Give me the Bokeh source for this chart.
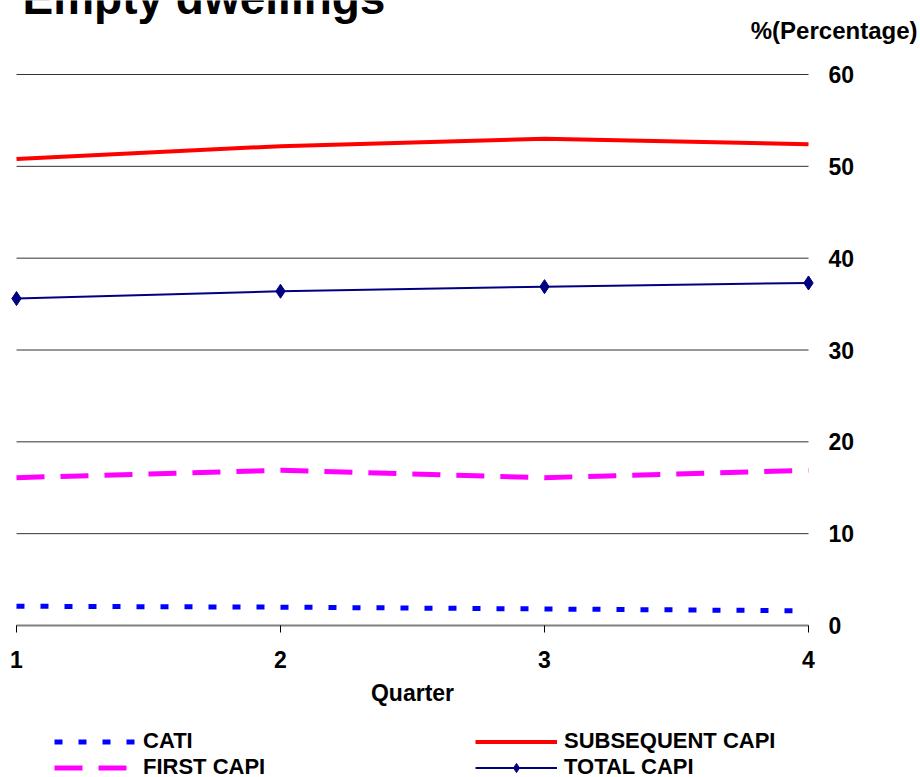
from bokeh.plotting import figure
from bokeh.models import Range1d, FixedTicker, Legend, LegendItem, Label
from bokeh.embed import file_html
from bokeh.resources import INLINE

quarters = [1, 2, 3, 4]
cati = [2.1, 2.0, 1.8, 1.6]
first_capi = [16.1, 16.9, 16.1, 16.9]
subsequent_capi = [50.8, 52.2, 53.0, 52.4]
total_capi = [35.6, 36.4, 36.9, 37.3]
y_ticks = [0, 10, 20, 30, 40, 50, 60]
x_ticks = [1, 2, 3, 4]

FONT = "Liberation Sans"
W, H = 920, 777
# pixel layout of the plotting area inside the canvas
PX_LEFT, PX_RIGHT, PX_TOP, PX_BOTTOM = 16, 808, 74, 625

kx = (PX_RIGHT - PX_LEFT) / (x_ticks[-1] - x_ticks[0])
ky = (PX_BOTTOM - PX_TOP) / (y_ticks[-1] - y_ticks[0])
x_range = Range1d(x_ticks[0] - PX_LEFT / kx, x_ticks[-1] + (W - PX_RIGHT) / kx)
y_range = Range1d(y_ticks[0] - (H - PX_BOTTOM) / ky, y_ticks[-1] + PX_TOP / ky)

p = figure(width=W, height=H, output_backend="svg", toolbar_location=None,
           title=None, x_range=x_range, y_range=y_range,
           y_axis_location="right", min_border=0)
p.outline_line_color = None
p.background_fill_color = "white"
p.border_fill_color = "white"

# horizontal grid lines spanning quarter 1..4
p.xgrid.visible = False
p.ygrid.visible = False
p.segment(x0=[quarters[0]] * len(y_ticks), x1=[quarters[-1]] * len(y_ticks),
          y0=y_ticks, y1=y_ticks, line_color="#333333", line_width=1)

# x axis, fixed at y = 0
xa = p.xaxis[0]
xa.fixed_location = y_ticks[0]
xa.ticker = FixedTicker(ticks=x_ticks)
xa.bounds = (quarters[0], quarters[-1])
xa.axis_line_color = "#808080"
xa.axis_line_width = 2
xa.major_tick_out = 7
xa.major_tick_in = 0
xa.major_tick_line_color = "black"
xa.minor_tick_line_color = None
xa.major_label_text_font = FONT
xa.major_label_text_font_style = "bold"
xa.major_label_text_font_size = "23px"
xa.major_label_text_color = "black"
xa.major_label_standoff = 18
xa.axis_label = "Quarter"
xa.axis_label_text_font = FONT
xa.axis_label_text_font_style = "bold"
xa.axis_label_text_font_size = "23px"
xa.axis_label_text_color = "black"
xa.axis_label_standoff = 9

# y axis on the right, fixed at quarter 4
ya = p.yaxis[0]
ya.fixed_location = quarters[-1]
ya.ticker = FixedTicker(ticks=y_ticks)
ya.axis_line_color = None
ya.major_tick_line_color = None
ya.major_tick_out = 0
ya.major_tick_in = 0
ya.minor_tick_line_color = None
ya.major_label_standoff = 20
ya.major_label_text_font = FONT
ya.major_label_text_font_style = "bold"
ya.major_label_text_font_size = "23px"
ya.major_label_text_color = "black"

# series
r_cati = p.line(quarters, cati, line_color="#0000FF", line_width=5, line_dash="8 16")
r_first = p.line(quarters, first_capi, line_color="#FF00FF", line_width=5, line_dash="28 16")
r_sub = p.line(quarters, subsequent_capi, line_color="#FF0000", line_width=4)
r_tot = p.line(quarters, total_capi, line_color="#000080", line_width=2)
r_tot_m = p.scatter(quarters, total_capi, marker="diamond", size=14,
                    fill_color="#000080", line_color="#000080")

legend = Legend(items=[LegendItem(label="CATI", renderers=[r_cati]),
                       LegendItem(label="FIRST CAPI", renderers=[r_first]),
                       LegendItem(label="SUBSEQUENT CAPI", renderers=[r_sub]),
                       LegendItem(label="TOTAL CAPI", renderers=[r_tot, r_tot_m])],
                orientation="vertical", nrows=2, location=(54, -3),
                padding=0, margin=0, spacing=0, border_line_color=None,
                background_fill_alpha=0, glyph_width=82, glyph_height=23,
                label_height=23, label_width=332, label_standoff=7,
                label_text_font=FONT, label_text_font_style="bold",
                label_text_font_size="22px", label_text_line_height=1.0,
                label_text_color="black")
p.add_layout(legend, "center")

title = Label(x=22, y=-3, x_units="canvas", y_units="canvas", text="Empty dwellings",
              text_font=FONT, text_font_style="bold", text_font_size="46px",
              text_baseline="middle", text_color="black")
pct = Label(x=917, y=30, x_units="canvas", y_units="canvas", text="%(Percentage)",
            text_font=FONT, text_font_style="bold", text_font_size="24px",
            text_align="right", text_baseline="middle", text_color="black")
p.add_layout(title)
p.add_layout(pct)

open("out.html", "w").write(file_html(p, INLINE))
